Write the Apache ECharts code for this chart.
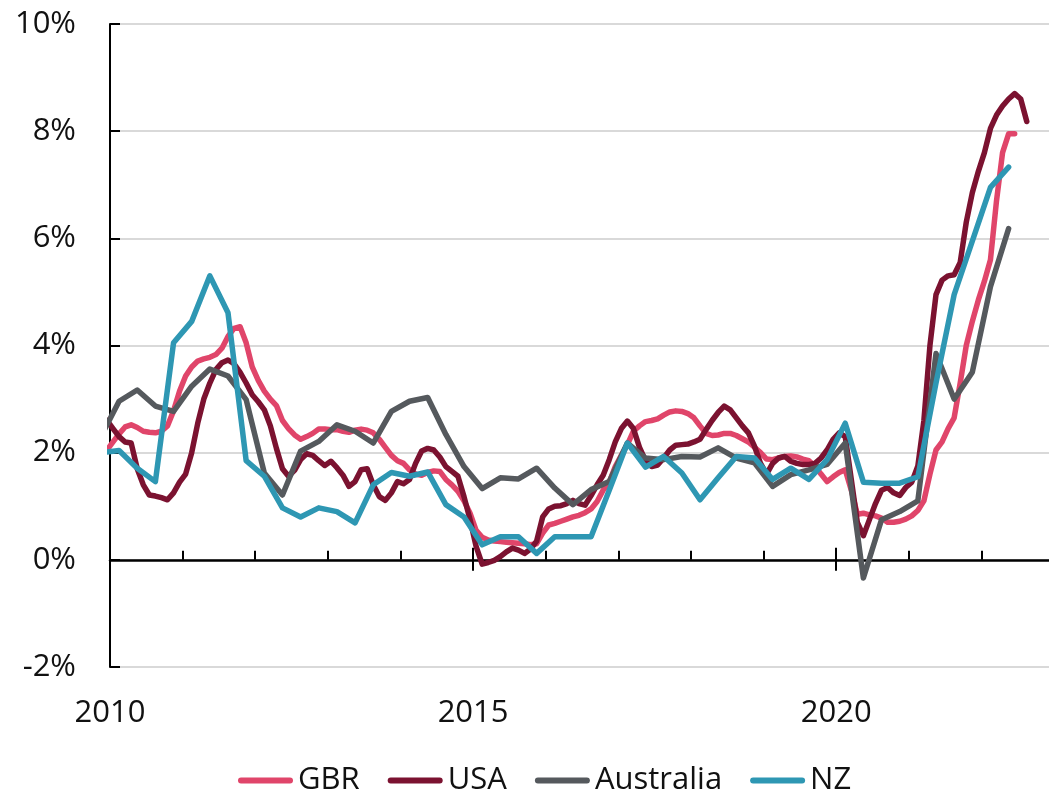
<!DOCTYPE html>
<html>
<head>
<meta charset="utf-8">
<script src="https://cdn.jsdelivr.net/npm/echarts@6/dist/echarts.min.js"></script>
<style>
html, body { margin: 0; padding: 0; background: #fff; }
#chart { width: 1049px; height: 795px; }
</style>
</head>
<body>
<div id="chart"></div>
<script>
// monthly series start Dec 2009, quarterly ones start 2009 Q4 (clipped at 2010)
var gbrMonthly = [
	2.05,
	2.2, 2.35, 2.48, 2.52, 2.47, 2.4, 2.38, 2.37, 2.4, 2.5, 2.78, 3.15,
	3.43, 3.6, 3.71, 3.75, 3.78, 3.83, 3.95, 4.17, 4.32, 4.35, 4.05, 3.6,
	3.35, 3.15, 3.0, 2.88, 2.6, 2.45, 2.33, 2.25, 2.3, 2.36, 2.44, 2.44,
	2.43, 2.43, 2.4, 2.38, 2.42, 2.44, 2.42, 2.37, 2.25, 2.1, 1.95, 1.85,
	1.8, 1.68, 1.6, 1.58, 1.63, 1.66, 1.65, 1.5, 1.4, 1.28, 1.1, 0.87,
	0.55, 0.42, 0.37, 0.35, 0.34, 0.33, 0.32, 0.31, 0.3, 0.28, 0.3, 0.5,
	0.65, 0.68, 0.72, 0.76, 0.8, 0.83, 0.88, 0.95, 1.09, 1.3, 1.45, 1.74,
	1.95, 2.15, 2.4, 2.5, 2.58, 2.6, 2.63, 2.7, 2.76, 2.78, 2.77, 2.73,
	2.65, 2.5, 2.36, 2.32, 2.33, 2.36, 2.36, 2.32, 2.26, 2.2, 2.1, 2.0,
	1.88, 1.87, 1.9, 1.93, 1.94, 1.92, 1.88, 1.85, 1.75, 1.6, 1.46, 1.55,
	1.63, 1.68, 1.3, 0.85, 0.87, 0.84, 0.82, 0.78, 0.7, 0.7, 0.72, 0.76,
	0.82, 0.92, 1.1, 1.6, 2.05, 2.2, 2.45, 2.65, 3.3, 4.0, 4.45, 4.85,
	5.2, 5.6, 6.7, 7.6, 7.95, 7.95
];
var usaMonthly = [
	2.6,
	2.45, 2.3, 2.2, 2.18, 1.7, 1.4, 1.21, 1.19, 1.16, 1.12, 1.25, 1.45,
	1.6, 2.0, 2.55, 3.0, 3.3, 3.55, 3.68, 3.73, 3.66, 3.5, 3.3, 3.08,
	2.95, 2.8, 2.5, 2.08, 1.7, 1.56, 1.67, 1.87, 1.98, 1.95, 1.85, 1.76,
	1.84, 1.72, 1.58, 1.37, 1.46, 1.68, 1.7, 1.4, 1.18, 1.11, 1.25, 1.46,
	1.42, 1.5, 1.8, 2.03, 2.08, 2.05, 1.92, 1.74, 1.65, 1.56, 1.18, 0.75,
	0.25, -0.08, -0.05, -0.01, 0.06, 0.15, 0.22, 0.18, 0.12, 0.2, 0.35, 0.8,
	0.95, 1.0, 1.01, 1.05, 1.11, 1.05, 1.02, 1.2, 1.4, 1.58, 1.87, 2.2,
	2.45, 2.59, 2.45, 2.1, 1.85, 1.74, 1.77, 1.9, 2.05, 2.14, 2.15, 2.16,
	2.2, 2.25, 2.43, 2.6, 2.75, 2.87, 2.8, 2.65, 2.5, 2.37, 2.12, 1.8,
	1.6, 1.8, 1.9, 1.93, 1.84, 1.8, 1.78, 1.78, 1.8, 1.9, 2.05, 2.25,
	2.37, 2.3, 1.5, 0.7, 0.45, 0.75, 1.05, 1.3, 1.35, 1.25, 1.2, 1.35,
	1.45, 1.75, 2.6, 4.0, 4.95, 5.22, 5.3, 5.32, 5.55, 6.3, 6.85, 7.25,
	7.6, 8.05, 8.3, 8.47, 8.6, 8.7, 8.6, 8.18
];
var ausQuarterly = [
	2.3,
	2.96, 3.17, 2.87, 2.77,
	3.24, 3.56, 3.43, 2.99,
	1.62, 1.21, 2.03, 2.21,
	2.52, 2.4, 2.18, 2.77,
	2.96, 3.03, 2.34, 1.74,
	1.33, 1.53, 1.51, 1.71,
	1.34, 1.03, 1.31, 1.46,
	2.18, 1.9, 1.87, 1.93,
	1.92, 2.09, 1.9, 1.81,
	1.37, 1.59, 1.68, 1.78,
	2.18, -0.34, 0.75, 0.9,
	1.1, 3.85, 3.0, 3.5,
	5.1, 6.18
];
var nzQuarterly = [
	2.0,
	2.04, 1.71, 1.46, 4.05,
	4.45, 5.3, 4.61, 1.85,
	1.56, 0.97, 0.8, 0.97,
	0.9, 0.69, 1.4, 1.63,
	1.56, 1.64, 1.03, 0.8,
	0.28, 0.43, 0.43, 0.12,
	0.43, 0.43, 0.43, 1.3,
	2.18, 1.73, 1.93, 1.62,
	1.12, 1.53, 1.93, 1.9,
	1.5, 1.71, 1.5, 1.87,
	2.55, 1.45, 1.43, 1.43,
	1.55, 3.3, 4.95, 5.95,
	6.95, 7.33
];
var yearLabels = ['2010', '2015', '2020'];
var names = ['GBR', 'USA', 'Australia', 'NZ'];
var colors = ['#e0456a', '#7b1230', '#55595d', '#2e97b3'];

var font = 'Open Sans';
var txt = '#111';

// monthly points sit mid-month, quarterly points mid-quarter
function monthly(y0, m0, vals){
	var out = [];
	for(var i=0;i<vals.length;i++){
		var m = m0 - 1 + i;
		out.push([y0 + (m + 0.5)/12, vals[i]]);
	}
	return out;
}
function quarterly(y0, q0, vals){
	var out = [];
	for(var i=0;i<vals.length;i++){
		var q = q0 - 1 + i;
		out.push([y0 + (q + 0.5)/4, vals[i]]);
	}
	return out;
}

var seriesData = [
	monthly(2009, 12, gbrMonthly),
	monthly(2009, 12, usaMonthly),
	quarterly(2009, 4, ausQuarterly),
	quarterly(2009, 4, nzQuarterly)
];

function xAx(extra){
	var base = {
		type: 'value',
		min: 2010,
		max: 2023,
		position: 'bottom',
		splitLine: { show: false },
		axisLabel: { show: false },
		axisLine: { show: false },
		axisTick: { show: false }
	};
	for(var k in extra){ base[k] = extra[k]; }
	return base;
}

var chart = echarts.init(document.getElementById('chart'));
var option = {
	animation: false,
	grid: { left: 110, right: -5, top: 24, bottom: 128, outerBoundsMode: 'none', containLabel: false },
	legend: {
		data: names,
		left: 233,
		top: 760,
		itemWidth: 55,
		itemHeight: 6,
		itemGap: 28,
		icon: 'path://M3,0 L52,0 A3,3 0 0 1 52,6 L3,6 A3,3 0 0 1 3,0 Z',
		textStyle: { fontFamily: font, fontSize: 31, color: txt }
	},
	xAxis: [
		// zero line with yearly ticks
		xAx({
			interval: 1,
			axisLine: { show: true, onZero: true, onZeroAxisIndex: 0, lineStyle: { color: '#000', width: 2.5 } },
			axisTick: { show: true, inside: true, length: 9, lineStyle: { color: '#000', width: 2 } }
		}),
		// longer ticks every five years, crossing the zero line
		xAx({
			interval: 5,
			axisLine: { show: false, onZero: true, onZeroAxisIndex: 0 },
			axisTick: { show: true, inside: true, length: 12, lineStyle: { color: '#000', width: 2 } }
		}),
		xAx({
			interval: 5,
			axisLine: { show: false, onZero: true, onZeroAxisIndex: 0 },
			axisTick: { show: true, inside: false, length: 11, lineStyle: { color: '#000', width: 2 } }
		}),
		// year labels under the plot
		xAx({
			interval: 5,
			axisLine: { show: false, onZero: false },
			axisLabel: {
				show: true,
				margin: 31,
				fontFamily: font,
				fontSize: 31,
				color: txt,
				formatter: function(v){
					var s = String(Math.round(v));
					return yearLabels.indexOf(s) >= 0 ? s : '';
				}
			}
		})
	],
	yAxis: {
		type: 'value',
		min: -2,
		max: 10,
		interval: 2,
		axisLine: { show: true, onZero: false, lineStyle: { color: '#000', width: 2 } },
		axisTick: { show: true, inside: true, length: 10, lineStyle: { color: '#000', width: 2 } },
		axisLabel: { margin: 34, fontFamily: font, fontSize: 31, color: txt, formatter: '{value}%' },
		splitLine: { show: true, lineStyle: { color: '#d9d9d9', width: 2 } }
	},
	series: []
};
for(var i=0;i<names.length;i++){
	option.series.push({
		name: names[i],
		type: 'line',
		xAxisIndex: 0,
		data: seriesData[i],
		symbol: 'none',
		showSymbol: false,
		color: colors[i],
		lineStyle: { width: 5.5, color: colors[i], cap: 'round', join: 'round' }
	});
}
chart.setOption(option);
</script>
</body>
</html>
